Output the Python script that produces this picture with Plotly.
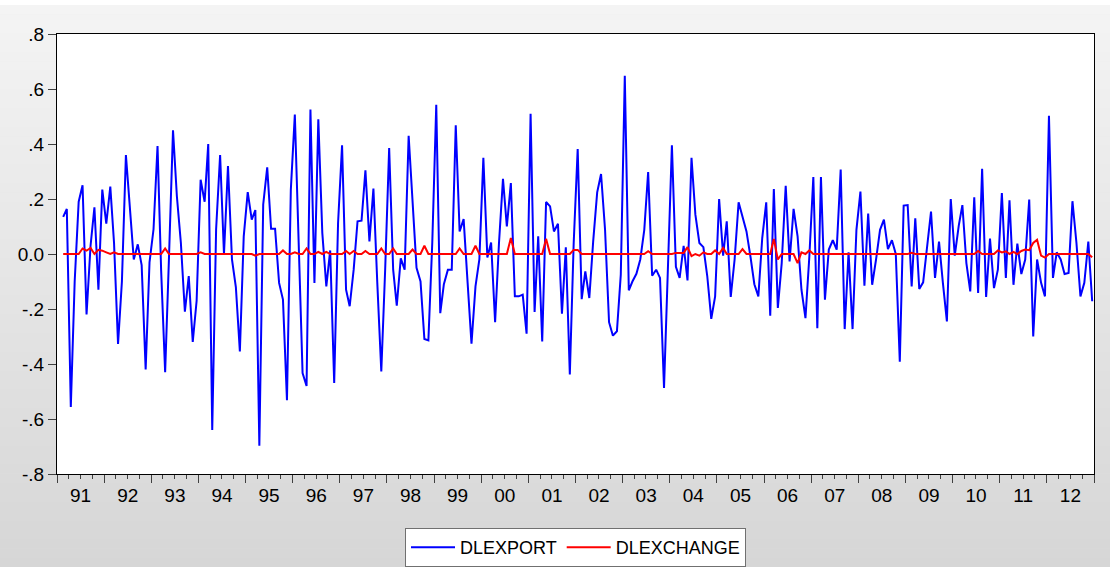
import pandas as pd
import plotly.graph_objects as go

# Monthly observations 1991M02 - 2012M12
start_month = "1991-02"
end_month = "2012-12"

dlexport = [
    0.135, 0.164, -0.556, -0.10, 0.19, 0.25, -0.22, 0.03, 0.17, -0.13, 0.234, 0.11,
    0.245, 0.04, -0.327, -0.10, 0.36, 0.17, -0.02, 0.035, -0.04, -0.42, -0.03, 0.09,
    0.393, -0.06, -0.43, -0.01, 0.45, 0.21, 0.04, -0.21, -0.08, -0.32, -0.17, 0.27,
    0.19, 0.40, -0.64, 0.09, 0.36, 0.0, 0.32, -0.02, -0.12, -0.354, 0.064, 0.225,
    0.125, 0.16, -0.697, 0.18, 0.315, 0.092, 0.092, -0.105, -0.166, -0.532, 0.234, 0.507,
    0.05, -0.433, -0.48, 0.525, -0.105, 0.49, 0.076, -0.118, 0.013, -0.469, 0.113, 0.395,
    -0.13, -0.19, -0.057, 0.119, 0.121, 0.304, 0.046, 0.238, -0.105, -0.427, -0.057, 0.385,
    -0.057, -0.188, -0.016, -0.057, 0.43, 0.173, -0.05, -0.10, -0.309, -0.314, 0.04, 0.543,
    -0.215, -0.11, -0.057, -0.057, 0.468, 0.082, 0.127, -0.105, -0.326, -0.118, -0.02, 0.35,
    -0.013, 0.042, -0.248, 0.04, 0.273, 0.10, 0.258, -0.154, -0.154, -0.148, -0.29, 0.51,
    -0.211, 0.064, -0.318, 0.189, 0.173, 0.082, 0.11, -0.217, 0.024, -0.438, 0.04, 0.382,
    -0.164, -0.063, -0.16, 0.046, 0.224, 0.291, 0.088, -0.248, -0.297, -0.281, -0.075, 0.648,
    -0.132, -0.10, -0.072, -0.02, 0.088, 0.298, -0.079, -0.057, -0.087, -0.487, -0.05, 0.395,
    -0.047, -0.087, 0.03, -0.096, 0.35, 0.143, 0.04, 0.025, -0.08, -0.236, -0.154, 0.20,
    -0.006, 0.119, -0.156, -0.02, 0.188, 0.137, 0.082, -0.01, -0.11, -0.154, 0.058, 0.188,
    -0.224, 0.236, -0.196, -0.033, 0.248, -0.027, 0.164, 0.064, -0.13, -0.233, -0.01, 0.28,
    -0.27, 0.28, -0.166, 0.016, 0.05, 0.016, 0.307, -0.273, 0.006, -0.273, 0.088, 0.227,
    -0.115, 0.147, -0.112, -0.02, 0.088, 0.125, 0.018, 0.05, 0.0, -0.392, 0.176, 0.178,
    -0.118, 0.13, -0.127, -0.103, 0.04, 0.154, -0.087, 0.045, -0.105, -0.245, 0.20, -0.006,
    0.103, 0.178, -0.033, -0.136, 0.206, -0.142, 0.31, -0.156, 0.056, -0.124, -0.057, 0.222,
    -0.087, 0.195, -0.112, 0.038, -0.073, -0.02, 0.198, -0.30, -0.02, -0.105, -0.154, 0.503,
    -0.087, 0.006, -0.02, -0.073, -0.069, 0.192, 0.04, -0.154, -0.105, 0.045, -0.172,
]

dlexchange = [
    0.0, 0.0, 0.0, 0.0, 0.0, 0.02, 0.012, 0.022, 0.0, 0.015, 0.012, 0.006,
    0.0, 0.006, 0.0, 0.0, 0.0, 0.0, 0.0, 0.0, 0.0, 0.0, 0.0, 0.0,
    0.0, 0.0, 0.02, 0.0, 0.0, 0.0, 0.0, 0.0, 0.0, 0.0, 0.0, 0.006,
    0.0, 0.0, 0.0, 0.0, 0.0, 0.0, 0.0, 0.0, 0.0, 0.0, 0.0, 0.0,
    0.0, -0.006, 0.0, 0.0, 0.0, 0.0, 0.0, 0.0, 0.013, 0.0, 0.0, 0.006,
    0.0, 0.0, 0.02, 0.0, 0.0, 0.008, 0.0, 0.008, 0.0, 0.0, 0.0, 0.0,
    0.011, 0.0, 0.011, 0.0, 0.0, 0.011, 0.0, 0.0, 0.0, 0.02, 0.0, 0.0,
    0.02, 0.0, 0.0, 0.0, 0.0, 0.016, 0.0, 0.0, 0.03, 0.0, 0.0, 0.0,
    0.0, 0.0, 0.0, 0.0, 0.0, 0.02, 0.0, 0.0, 0.0, 0.03, 0.0, 0.0,
    0.0, 0.0, 0.0, 0.0, 0.0, 0.0, 0.058, 0.0, 0.0, 0.0, 0.0, 0.0,
    0.0, 0.0, 0.0, 0.055, 0.0, 0.0, 0.0, 0.0, 0.0, 0.0, 0.015, 0.015,
    0.0, 0.0, 0.0, 0.0, 0.0, 0.0, 0.0, 0.0, 0.0, 0.0, 0.0, 0.0,
    0.0, 0.0, 0.0, 0.0, 0.0, 0.01, 0.0, 0.0, 0.0, 0.0, 0.0, 0.0,
    0.004, 0.004, 0.004, 0.025, -0.008, 0.0, -0.006, 0.006, 0.0, 0.0, 0.013, 0.0,
    0.022, 0.0, 0.0, 0.0, 0.0, 0.018, 0.0, 0.0, 0.0, 0.0, 0.0, 0.0,
    0.0, 0.055, -0.02, 0.0, 0.0, 0.0, 0.0, -0.033, 0.006, 0.0, 0.013, 0.0,
    0.0, 0.0, 0.0, 0.0, 0.0, 0.0, 0.0, 0.0, 0.0, 0.0, 0.0, 0.0,
    0.0, 0.0, 0.0, 0.0, 0.0, 0.0, 0.0, 0.0, 0.0, 0.0, 0.0, 0.0,
    0.004, 0.0, 0.0, 0.0, 0.0, 0.0, 0.0, 0.0, 0.0, 0.0, 0.0, 0.0,
    0.0, 0.0, 0.0, 0.0, 0.0, 0.011, 0.0, 0.0, 0.0, 0.0, 0.013, 0.006,
    0.01, 0.0, 0.008, 0.0, 0.011, 0.016, 0.014, 0.04, 0.052, -0.006, -0.013, 0.0,
    0.0, 0.0, 0.0, 0.0, 0.0, 0.0, 0.0, 0.0, 0.0, 0.0, -0.012,
]

y_tickvals = [0.8, 0.6, 0.4, 0.2, 0.0, -0.2, -0.4, -0.6, -0.8]
y_ticktext = [".8", ".6", ".4", ".2", "0.0", "-.2", "-.4", "-.6", "-.8"]

months = pd.period_range(start_month, end_month, freq="M")
x = months.to_timestamp() + pd.Timedelta(days=17)

FONT = "Liberation Sans, Arial, sans-serif"

fig = go.Figure()
fig.add_trace(go.Scatter(x=x, y=dlexport, mode="lines", name="DLEXPORT",
                         line=dict(color="#0000ff", width=2)))
fig.add_trace(go.Scatter(x=x, y=dlexchange, mode="lines", name="DLEXCHANGE",
                         line=dict(color="#ff0000", width=2)))

# gray vertical gradient background (outside the plot area)
shapes = []
ML, MR, MT, MB, W, H = 57, 16, 34, 93, 1110, 567
plot_h = H - MT - MB
def py2paper(py):
    return (H - MB - py) / plot_h
n = 60
top_px, bot_px = 5, H
c_top, c_bot = 0xf4, 0xd6
for i in range(n):
    p0 = top_px + (bot_px - top_px) * i / n
    p1 = top_px + (bot_px - top_px) * (i + 1) / n
    c = round(c_top + (c_bot - c_top) * (i + 0.5) / n)
    shapes.append(dict(type="rect", xref="paper", yref="paper",
                       x0=-0.2, x1=1.2, y0=py2paper(p1 + 0.5), y1=py2paper(p0),
                       fillcolor=f"rgb({c},{c},{c})", line=dict(width=0), layer="below"))
# white page strip at very top
shapes.append(dict(type="rect", xref="paper", yref="paper", x0=-0.2, x1=1.2,
                   y0=py2paper(top_px), y1=py2paper(-5), fillcolor="white",
                   line=dict(width=0), layer="below"))
# white plot area
shapes.append(dict(type="rect", xref="paper", yref="paper", x0=0, x1=1, y0=0, y1=1,
                   fillcolor="white", line=dict(width=0), layer="below"))

fig.update_layout(
    width=W, height=H,
    margin=dict(l=ML, r=MR, t=MT, b=MB, autoexpand=False),
    paper_bgcolor="#e4e4e4",
    plot_bgcolor="white",
    shapes=shapes,
    font=dict(family=FONT, size=19, color="black"),
    showlegend=True,
    legend=dict(orientation="h", x=0.5, xanchor="center", xref="paper",
                y=py2paper(528), yanchor="top",
                bgcolor="white", bordercolor="#707070", borderwidth=1,
                font=dict(family=FONT, size=18, color="black"),
                itemwidth=44, tracegroupgap=0),
    xaxis=dict(
        type="date",
        range=["1991-01-01", "2013-01-01"],
        tick0="1991-01-01", dtick="M12", tickformat="%y",
        ticklabelmode="period",
        ticks="outside", ticklen=8, tickwidth=1, tickcolor="#404040",
        ticklabelstandoff=-4,
        minor=dict(dtick="M3", tick0="1991-01-01", ticks="outside", ticklen=4,
                   tickwidth=1, tickcolor="#404040", showgrid=False),
        showgrid=False, zeroline=False,
        showline=True, linecolor="black", linewidth=1, mirror=True,
        tickfont=dict(family=FONT, size=19, color="black"),
    ),
    yaxis=dict(
        range=[-0.8, 0.8],
        tickvals=y_tickvals, ticktext=y_ticktext,
        ticks="outside", ticklen=8, tickwidth=1, tickcolor="#404040",
        showgrid=False, zeroline=False,
        showline=True, linecolor="black", linewidth=1, mirror=True,
        tickfont=dict(family=FONT, size=19, color="black"),
    ),
)

fig.write_html("out.html", config={"displayModeBar": False},
               post_script="document.body.style.margin='0px';")
